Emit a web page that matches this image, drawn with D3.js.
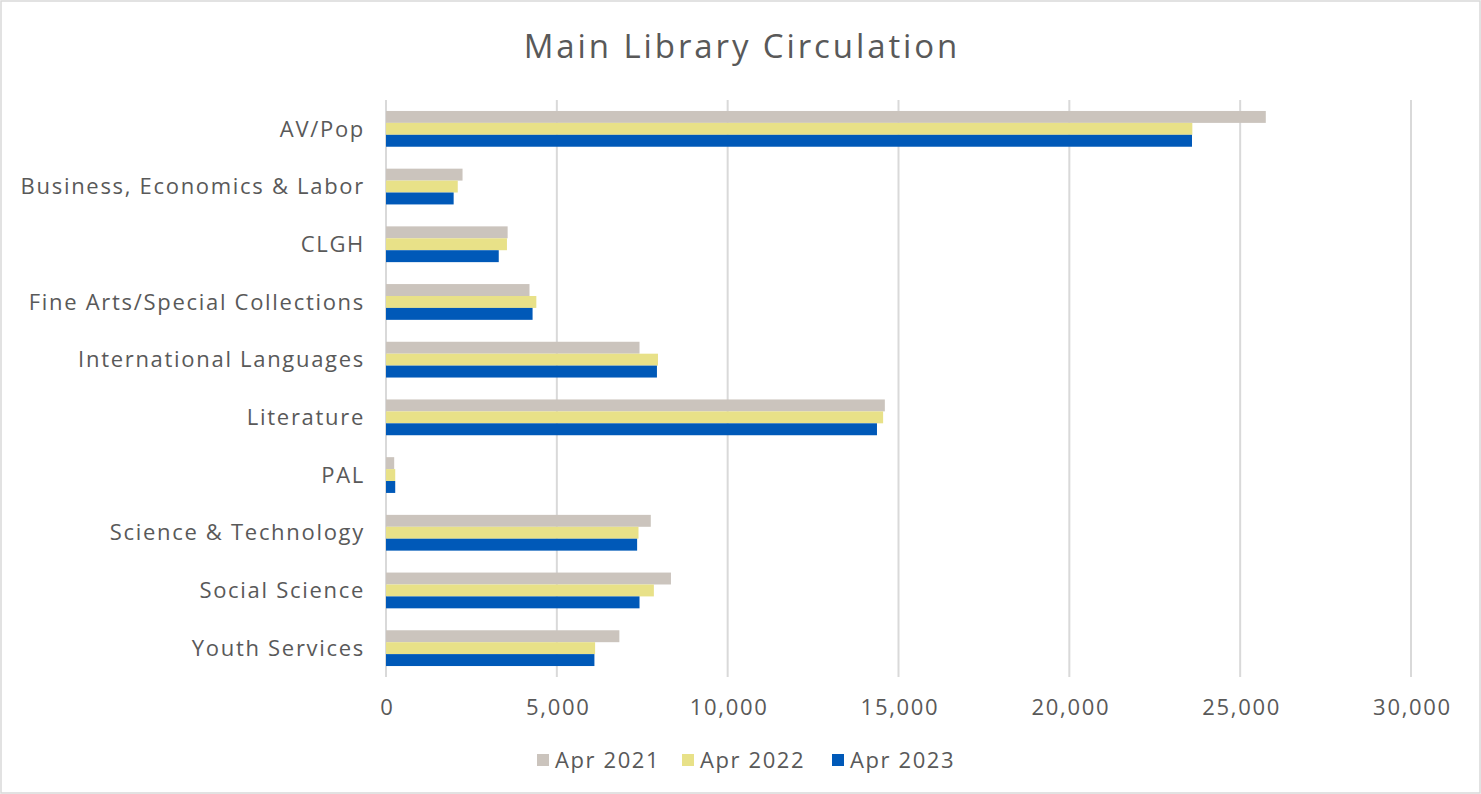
<!DOCTYPE html>
<html>
<head>
<meta charset="utf-8">
<script src="https://cdn.jsdelivr.net/npm/d3@7"></script>
<style>
  body { margin: 0; background: #fff; }
  svg { display: block; }
  text { font-family: "Open Sans", "Noto Sans", sans-serif; fill: #595959; }
</style>
</head>
<body>
<svg id="chart" width="1481" height="794"></svg>
<script>
const categories = ["AV/Pop", "Business, Economics & Labor", "CLGH", "Fine Arts/Special Collections",
  "International Languages", "Literature", "PAL", "Science & Technology", "Social Science", "Youth Services"];
const seriesNames = ["Apr 2021", "Apr 2022", "Apr 2023"];
const apr2021 = [25750, 2240, 3560, 4200, 7420, 14600, 240, 7750, 8340, 6830];
const apr2022 = [23600, 2100, 3540, 4400, 7960, 14550, 270, 7390, 7840, 6120];
const apr2023 = [23590, 1980, 3300, 4290, 7930, 14370, 270, 7350, 7420, 6100];
const xTicks = [0, 5000, 10000, 15000, 20000, 25000, 30000];
const colors = ["#CBC4BD", "#E8E188", "#0059B8"];
const title = "Main Library Circulation";

const series = [apr2021, apr2022, apr2023];
const svg = d3.select("#chart");
const W = 1481, H = 794;
const FONT = '"Open Sans", "Noto Sans", sans-serif';

svg.append("rect").attr("x", 1).attr("y", 1).attr("width", W - 2).attr("height", H - 2)
  .attr("fill", "#fff").attr("stroke", "#d9d9d9").attr("stroke-width", 1.5);

const x = d3.scaleLinear().domain([0, 30000]).range([386, 1411]);
const y = d3.scaleBand().domain(categories).range([100, 677]).paddingInner(0.38).paddingOuter(0.19);
const yInner = d3.scaleBand().domain(d3.range(seriesNames.length)).range([0, y.bandwidth()]);

// gridlines
svg.append("g").selectAll("line").data(xTicks).join("line")
  .attr("x1", d => x(d)).attr("x2", d => x(d))
  .attr("y1", 100).attr("y2", 677)
  .attr("stroke", "#d9d9d9").attr("stroke-width", 2);

// bars
const groups = svg.append("g").selectAll("g").data(categories).join("g")
  .attr("transform", d => `translate(0,${y(d)})`);
groups.selectAll("rect").data((c, i) => series.map((s, k) => ({ k, v: s[i] }))).join("rect")
  .attr("x", x(0))
  .attr("y", d => yInner(d.k))
  .attr("width", d => x(d.v) - x(0))
  .attr("height", yInner.bandwidth())
  .attr("fill", d => colors[d.k]);

// x axis labels
const xAxis = d3.axisBottom(x).tickValues(xTicks).tickFormat(d3.format(",")).tickSize(0).tickPadding(0);
const gx = svg.append("g").attr("transform", "translate(1,677)").call(xAxis);
gx.select(".domain").remove();
gx.selectAll("text").attr("dy", null).attr("y", 38)
  .style("font-size", "22px").style("fill", "#595959").style("letter-spacing", "1.7px")
  .style("font-family", FONT);

// y axis labels
const yAxis = d3.axisLeft(y).tickSize(0).tickPadding(0);
const gy = svg.append("g").attr("transform", "translate(365,0)").call(yAxis);
gy.select(".domain").remove();
gy.selectAll("text").attr("dy", "0.35em")
  .style("font-size", "22px").style("fill", "#595959").style("letter-spacing", "1.7px")
  .style("font-family", FONT);

// title
svg.append("text").attr("x", 742).attr("y", 58).attr("text-anchor", "middle")
  .style("font-size", "33px").style("letter-spacing", "2.9px").text(title);

// legend
const legendX = [537, 682, 832];
const leg = svg.append("g").selectAll("g").data(seriesNames).join("g")
  .attr("transform", (d, i) => `translate(${legendX[i]},760)`);
leg.append("rect").attr("x", 0).attr("y", -6).attr("width", 12).attr("height", 12)
  .attr("fill", (d, i) => colors[i]);
leg.append("text").attr("x", 18).attr("dy", "0.35em").style("font-size", "22px")
  .style("letter-spacing", "1.6px").text(d => d);
</script>
</body>
</html>
